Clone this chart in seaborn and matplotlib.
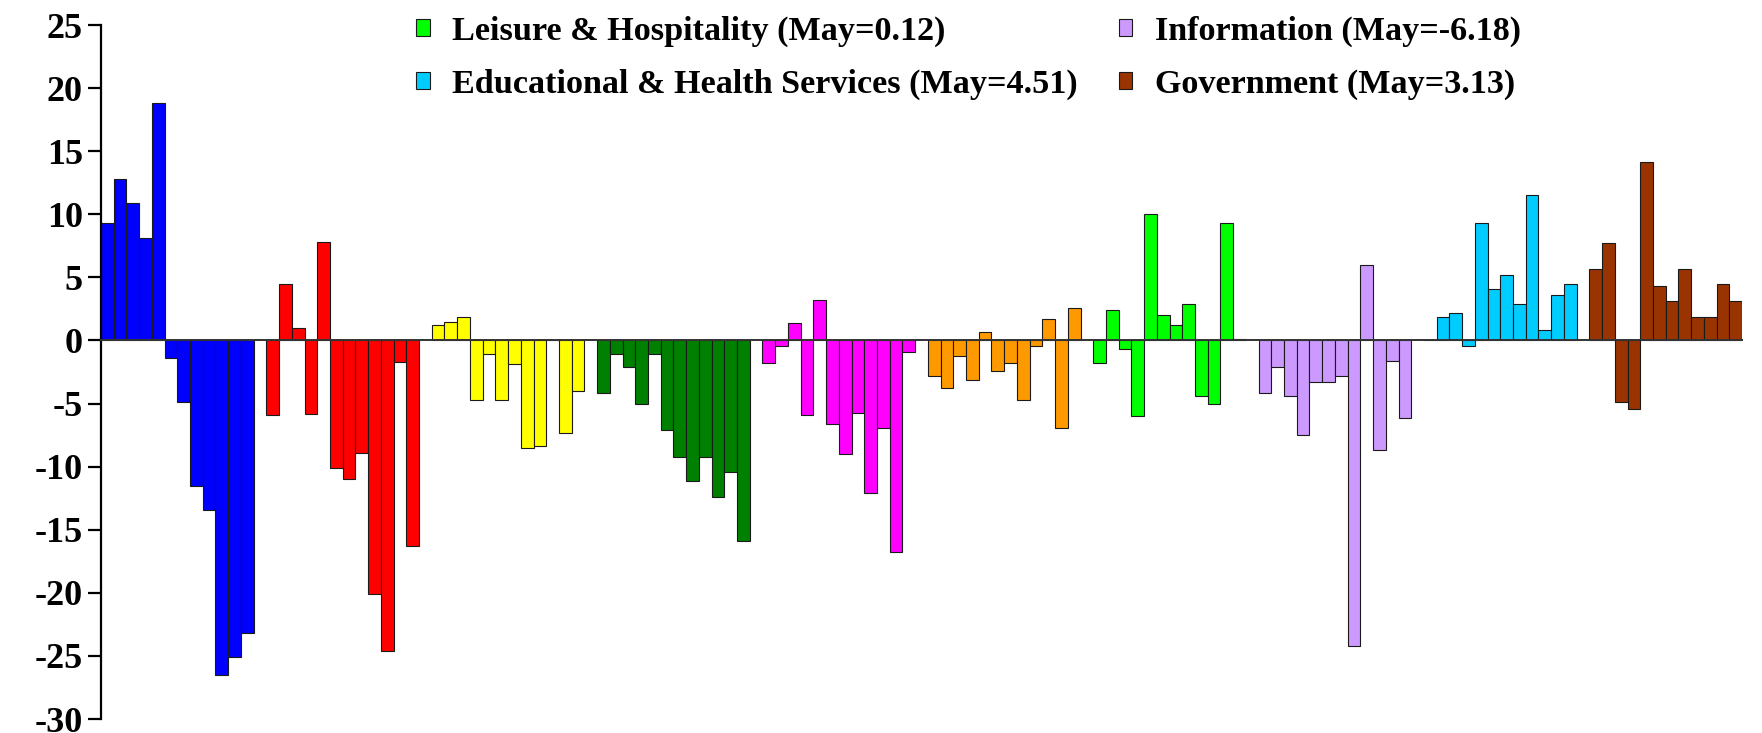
import matplotlib
matplotlib.use("Agg")
import matplotlib.pyplot as plt
from matplotlib.patches import Patch
import seaborn as sns
import pandas as pd

# 12 monthly values per sector, last one is May
sectors = ["Construction", "Manufacturing", "Trade, Transportation & Utilities",
           "Financial Activities", "Professional & Business Services", "Other Services",
           "Leisure & Hospitality", "Information", "Educational & Health Services",
           "Government"]
colors = ["#0000FF", "#FF0000", "#FFFF00", "#008000", "#FF00FF", "#FF9900",
          "#00FF00", "#CC99FF", "#00CCFF", "#993300"]

construction = [9.3, 12.8, 10.9, 8.1, 18.8, -1.4, -4.9, -11.5, -13.4, -26.5, -25.1, -23.2]
manufacturing = [-5.9, 4.5, 1.0, -5.8, 7.8, -10.1, -11.0, -8.9, -20.1, -24.6, -1.7, -16.3]
trade = [1.2, 1.5, 1.85, -4.7, -1.1, -4.7, -1.9, -8.5, -8.4, 0.0, -7.3, -4.0]
financial = [-4.2, -1.1, -2.1, -5.0, -1.1, -7.1, -9.2, -11.1, -9.2, -12.4, -10.4, -15.9]
professional = [-1.75, -0.4, 1.4, -5.9, 3.2, -6.6, -9.0, -5.75, -12.1, -6.9, -16.8, -0.9]
other = [-2.8, -3.8, -1.2, -3.15, 0.65, -2.45, -1.75, -4.7, -0.4, 1.7, -6.9, 2.55]
leisure = [-1.75, 2.4, -0.7, -6.0, 10.0, 2.0, 1.2, 2.9, -4.4, -5.0, 9.3, 0.12]
information = [-4.2, -2.1, -4.4, -7.5, -3.3, -3.3, -2.8, -24.2, 6.0, -8.7, -1.6, -6.18]
education = [0.0, 1.85, 2.2, -0.4, 9.3, 4.1, 5.15, 2.9, 11.5, 0.8, 3.6, 4.51]
government = [5.7, 7.75, -4.85, -5.4, 14.15, 4.3, 3.1, 5.7, 1.85, 1.85, 4.5, 3.13]

series = [construction, manufacturing, trade, financial, professional, other,
          leisure, information, education, government]

# legend shown row by row: Leisure | Information / Education | Government
legend_sectors = ["Leisure & Hospitality", "Information",
                  "Educational & Health Services", "Government"]
legend_labels = ["Leisure & Hospitality (May=0.12)", "Information (May=-6.18)",
                 "Educational & Health Services (May=4.51)", "Government (May=3.13)"]

rows = []
for g, (name, vals) in enumerate(zip(sectors, series)):
    for i, v in enumerate(vals):
        rows.append({"slot": g * 13 + i, "sector": name, "value": v})
df = pd.DataFrame(rows)
palette = dict(zip(sectors, colors))

sns.set_style("white")
plt.rcParams["font.family"] = ["Liberation Serif", "DejaVu Serif"]
plt.rcParams["font.weight"] = "bold"
plt.rcParams["axes.unicode_minus"] = False
plt.rcParams["text.color"] = "black"
plt.rcParams["ytick.color"] = "black"

fig = plt.figure(figsize=(17.62, 7.33), dpi=100)
ax = fig.add_axes([101 / 1762, 14 / 733, (1742 - 101) / 1762, (719 - 25) / 733])

sns.barplot(data=df, x="slot", y="value", hue="sector", palette=palette,
            native_scale=True, dodge=False, width=1.0, errorbar=None,
            saturation=1, edgecolor="#1a1a1a", linewidth=0.8, legend=False, ax=ax)

n_slots = len(sectors) * 13 - 1
ax.set_xlim(-0.5, n_slots - 0.5)
ax.set_ylim(-30, 25)
ax.set_yticks(range(-30, 26, 5))
ax.set_xticks([])
ax.set_xlabel("")
ax.set_ylabel("")

for side in ["top", "right"]:
    ax.spines[side].set_visible(False)
ax.spines["bottom"].set_position(("data", 0))
ax.spines["bottom"].set_linewidth(1.4)
ax.spines["bottom"].set_color("#333333")
ax.spines["left"].set_linewidth(1.6)
ax.spines["left"].set_color("black")
ax.spines["bottom"].set_zorder(5)

ax.tick_params(axis="y", direction="out", length=9.5, width=1.6, pad=3.5,
               labelsize=26, left=True, labelcolor="black")
for lab in ax.get_yticklabels():
    lab.set_fontweight("bold")

# matplotlib fills legend columns first, so reorder to get the row layout
order = [0, 2, 1, 3]
handles = [Patch(facecolor=palette[legend_sectors[k]], edgecolor="#1a1a1a", linewidth=0.8)
           for k in order]
labels = [legend_labels[k] for k in order]
fig.legend(handles, labels, ncol=2, loc="upper left",
           bbox_to_anchor=(392 / 1762, 1 + 8 / 733), frameon=False,
           prop={"family": ["Liberation Serif", "DejaVu Serif"], "weight": "bold", "size": 24.6},
           handlelength=0.4, handleheight=0.38, handletextpad=0.66,
           columnspacing=1.2, labelspacing=0.64, borderpad=0.2)

fig.savefig("out.png", dpi=100)
